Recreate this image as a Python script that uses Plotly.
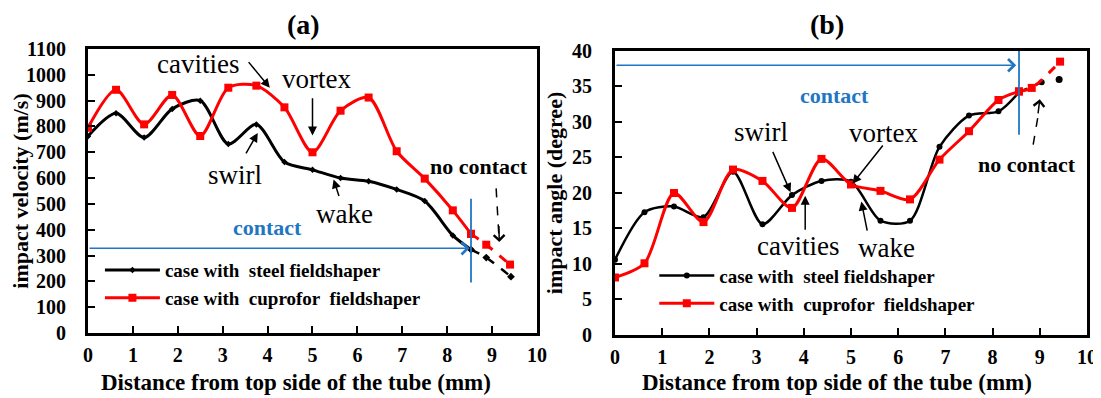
import plotly.graph_objects as go

# ---- data ----
dist = [0, 0.625, 1.25, 1.875, 2.5, 3.125, 3.75, 4.375, 5.0, 5.625, 6.25, 6.875, 7.5, 8.125]

# (a) impact velocity (m/s)
vel_steel = [762, 851, 757, 868, 900, 732, 808, 662, 632, 600, 588, 556, 511, 378]
vel_cupro = [795, 942, 808, 922, 763, 950, 958, 874, 700, 861, 912, 704, 598, 475]
vel_steel_nc_x = [8.53, 8.87, 9.42]
vel_steel_nc = [323, 292, 218]
vel_cupro_nc_x = [8.53, 8.87, 9.4]
vel_cupro_nc = [384, 342, 265]

# (b) impact angle (degree)
ang_steel = [10.6, 17.3, 18.1, 16.6, 23.0, 15.6, 19.7, 21.7, 21.6, 16.1, 16.1, 26.5, 30.9, 31.5]
ang_cupro = [8.1, 10.1, 20.0, 15.9, 23.3, 21.7, 17.9, 24.8, 21.2, 20.3, 19.1, 24.7, 28.7, 33.1]
ang_steel_nc_x = [8.56, 9.04]
ang_steel_nc = [34.2, 35.6]
ang_steel_last_x = [9.41]
ang_steel_last = [36.0]
ang_cupro_nc_x = [8.56, 8.83, 9.43]
ang_cupro_nc = [34.3, 34.8, 38.5]

x_ticks = list(range(0, 11))
vel_ticks = list(range(0, 1101, 100))
ang_ticks = list(range(0, 41, 5))

FONT = "Liberation Serif"
BLUE = "#1f77c4"
RED = "#ff0000"

fig = go.Figure()

def add_series(xs, ys, color, symbol, msize, xa, ya, name=None, legend=None,
               dash="solid", width=3):
    fig.add_trace(go.Scatter(
        x=xs, y=ys, mode="lines+markers", xaxis=xa, yaxis=ya,
        line=dict(color=color, width=width, shape="spline", smoothing=0.8, dash=dash),
        marker=dict(color=color, symbol=symbol, size=msize),
        name=name or "", showlegend=name is not None, legend=legend,
    ))

# panel (a)
add_series(dist + [vel_steel_nc_x[0]], vel_steel + [vel_steel_nc[0]], "black", "diamond", 5,
           "x", "y", "case with  steel fieldshaper", "legend")
add_series(dist + [vel_cupro_nc_x[0]], vel_cupro + [vel_cupro_nc[0]], RED, "square", 8,
           "x", "y", "case with  cuprofor  fieldshaper", "legend")
add_series(vel_steel_nc_x, vel_steel_nc, "black", "diamond", 6, "x", "y", dash="dash", width=2.5)
add_series(vel_cupro_nc_x, vel_cupro_nc, RED, "square", 8, "x", "y", dash="dash", width=3)

# panel (b)
add_series(dist + [ang_steel_nc_x[0]], ang_steel + [ang_steel_nc[0]], "black", "circle", 6,
           "x2", "y2", "case with  steel fieldshaper", "legend2", width=2.5)
add_series(dist + [ang_cupro_nc_x[0]], ang_cupro + [ang_cupro_nc[0]], RED, "square", 8,
           "x2", "y2", "case with  cuprofor  fieldshaper", "legend2")
add_series(ang_steel_nc_x, ang_steel_nc, "black", "circle", 6, "x2", "y2", dash="dash", width=2.5)
add_series(ang_cupro_nc_x, ang_cupro_nc, RED, "square", 8, "x2", "y2", dash="dash", width=3)
fig.add_trace(go.Scatter(x=ang_steel_last_x, y=ang_steel_last, mode="markers",
                         xaxis="x2", yaxis="y2", showlegend=False,
                         marker=dict(color="black", size=7)))

ann = []
shapes = []

def label(text, x, y, xr, yr, size=27, color="black", bold=False, yanchor="middle"):
    ann.append(dict(text=f"<b>{text}</b>" if bold else text, x=x, y=y, xref=xr, yref=yr,
                    xanchor="center", yanchor=yanchor, showarrow=False, borderpad=0,
                    font=dict(family=FONT, size=size, color=color)))

def arrow(x, y, ax, ay, xr, yr, color="black", head=2, width=1.5, size=1.2):
    ann.append(dict(text="", x=x, y=y, ax=ax, ay=ay, xref=xr, yref=yr, axref=xr, ayref=yr,
                    showarrow=True, arrowhead=head, arrowsize=size, arrowwidth=width,
                    arrowcolor=color))

# panel (a) annotations
label("cavities", 2.45, 1040, "x", "y")
arrow(4.05, 950, 3.55, 1055, "x", "y")
label("vortex", 5.1, 985, "x", "y")
arrow(5.0, 765, 5.0, 915, "x", "y")
label("swirl", 3.27, 612, "x", "y")
arrow(3.78, 775, 3.5, 690, "x", "y")
label("wake", 5.71, 462, "x", "y")
arrow(5.47, 595, 5.6, 525, "x", "y")
label("contact", 4.0, 410, "x", "y", size=22, color=BLUE, bold=True)
arrow(8.5, 328, 0, 328, "x", "y", color=BLUE, head=4, width=1.6, size=1.5)
shapes.append(dict(type="line", xref="x", yref="y", x0=8.53, x1=8.53, y0=196, y1=520,
                   line=dict(color=BLUE, width=1.8)))
label("no contact", 8.7, 645, "x", "y", size=22, bold=True)
shapes.append(dict(type="line", xref="x", yref="y", x0=9.09, x1=9.15, y0=560, y1=380,
                   line=dict(color="black", width=1.5, dash="dash")))
arrow(9.16, 352, 9.15, 420, "x", "y", head=4, size=1.4)

# panel (b) annotations
label("swirl", 3.1, 28.6, "x2", "y2")
arrow(3.72, 20.1, 3.33, 26.0, "x2", "y2")
label("vortex", 5.68, 28.5, "x2", "y2")
arrow(5.03, 21.3, 5.7, 26.9, "x2", "y2")
label("cavities", 3.88, 12.5, "x2", "y2")
arrow(4.03, 19.6, 4.03, 14.6, "x2", "y2")
label("wake", 5.75, 12.3, "x2", "y2")
arrow(5.22, 18.8, 5.35, 14.5, "x2", "y2")
label("contact", 4.66, 33.7, "x2", "y2", size=22, color=BLUE, bold=True)
arrow(8.5, 38.0, 0, 38.0, "x2", "y2", color=BLUE, head=4, width=1.6, size=1.5)
shapes.append(dict(type="line", xref="x2", yref="y2", x0=8.56, x1=8.56, y0=28.2, y1=40,
                   line=dict(color=BLUE, width=1.8)))
label("no contact", 8.73, 24.0, "x2", "y2", size=22, bold=True)
shapes.append(dict(type="line", xref="x2", yref="y2", x0=8.86, x1=8.98, y0=26.8, y1=31.5,
                   line=dict(color="black", width=1.5, dash="dash")))
arrow(9.0, 33.2, 8.96, 31.0, "x2", "y2", head=4, size=1.4)

# titles (page is offset by the 8px body margin)
label("(a)", 0.268, 1.0, "paper", "paper", size=28, bold=True, yanchor="top")
label("(b)", 0.744, 1.0, "paper", "paper", size=28, bold=True, yanchor="top")
label("Distance from top side of the tube (mm)", 0.2616, 0.058, "paper", "paper", size=23, bold=True)
label("Distance from top side of the tube (mm)", 0.753, 0.058, "paper", "paper", size=23, bold=True)

tickfont = dict(family=FONT, size=20, color="black", weight="bold")
title_font = dict(family=FONT, size=22, color="black")

def xaxis(domain, anchor):
    return dict(domain=domain, anchor=anchor, range=[0, 10], tickvals=x_ticks,
                showline=True, linecolor="black", linewidth=3, mirror=True,
                ticks="inside", ticklen=7, tickwidth=2, tickcolor="black",
                showgrid=False, zeroline=False, tickfont=tickfont,
                ticklabelstandoff=2, automargin=False)

def yaxis(domain, anchor, rng, vals, title, standoff, tstandoff):
    return dict(domain=domain, anchor=anchor, range=rng, tickvals=vals,
                showline=True, linecolor="black", linewidth=3, mirror=True,
                ticks="inside", ticklen=7, tickwidth=2, tickcolor="black",
                showgrid=False, zeroline=False, tickfont=tickfont,
                ticklabelstandoff=standoff, automargin=False,
                title=dict(text=f"<b>{title}</b>", font=title_font, standoff=tstandoff))

legend_style = dict(bgcolor="rgba(0,0,0,0)", borderwidth=0, itemwidth=55,
                    font=dict(family=FONT, size=19, color="black", weight="bold"),
                    xanchor="left", yanchor="top", tracegroupgap=0)

fig.update_layout(
    width=1101, height=398,
    paper_bgcolor="white", plot_bgcolor="white",
    margin=dict(l=0, r=0, t=0, b=0, autoexpand=False),
    font=dict(family=FONT, color="black"),
    xaxis=xaxis([0.07266, 0.48047], "y"),
    yaxis=yaxis([0.1834, 0.8970], "x", [0, 1100], vel_ticks, "impact velocity (m/s)", 15, 10),
    xaxis2=xaxis([0.5513, 0.9800], "y2"),
    yaxis2=yaxis([0.1784, 0.8920], "x2", [0, 40], ang_ticks, "impact angle (degree)", 16, 4),
    legend=dict(x=0.0835, y=0.389, **legend_style),
    legend2=dict(x=0.587, y=0.375, **legend_style),
    annotations=ann,
    shapes=shapes,
)

fig.write_html("out.html")
